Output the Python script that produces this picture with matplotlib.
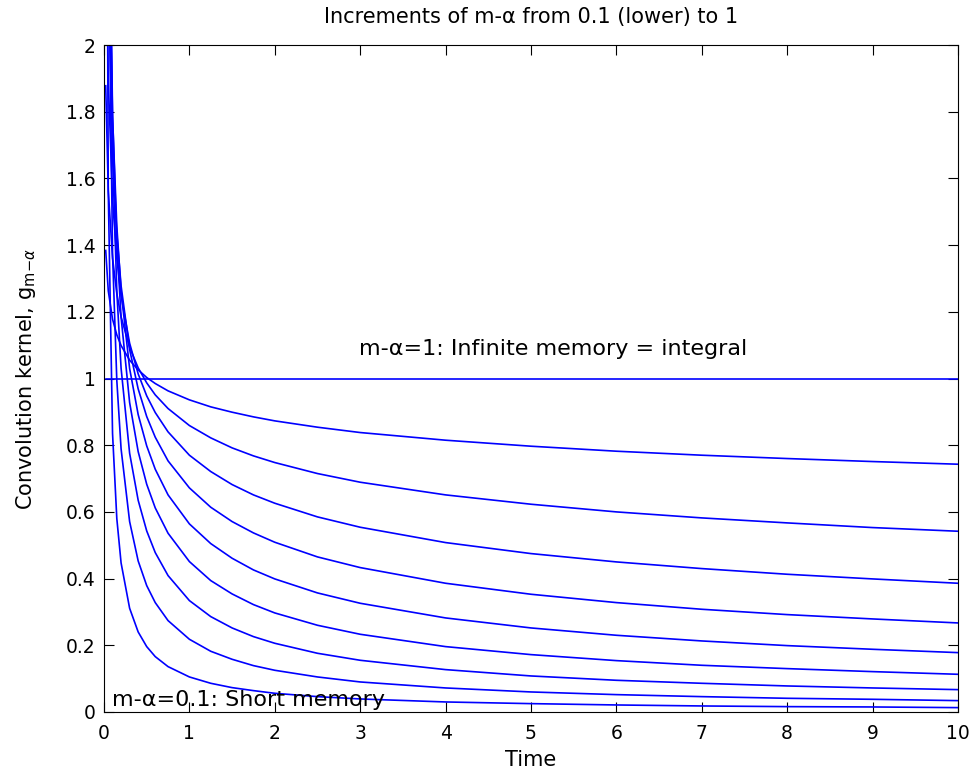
import matplotlib
matplotlib.use('Agg')
import matplotlib.pyplot as plt

plt.rcParams['font.family'] = ['DejaVu Sans']

# sample times
time = [0.02, 0.05, 0.1, 0.15, 0.2, 0.3, 0.4, 0.5, 0.6, 0.75, 1, 1.25, 1.5, 1.75, 2,
        2.5, 3, 4, 5, 6, 7, 8, 9, 10]

# kernel values per curve, m-alpha = 0.1 ... 1 (values above 2 are off the chart)
g_01 = [3.55, 1.56, 0.835, 0.58, 0.447, 0.311, 0.24, 0.196, 0.166, 0.136, 0.105, 0.086,
        0.073, 0.064, 0.056, 0.046, 0.039, 0.030, 0.025, 0.021, 0.018, 0.016, 0.015, 0.013]
g_02 = [4.98, 2.39, 1.374, 0.994, 0.789, 0.571, 0.453, 0.379, 0.328, 0.274, 0.218, 0.182,
        0.158, 0.139, 0.125, 0.105, 0.090, 0.072, 0.060, 0.052, 0.046, 0.041, 0.038, 0.034]
g_03 = [5.17, 2.72, 1.675, 1.261, 1.031, 0.776, 0.635, 0.543, 0.478, 0.409, 0.334, 0.286,
        0.252, 0.226, 0.206, 0.176, 0.155, 0.127, 0.108, 0.095, 0.086, 0.078, 0.072, 0.067]
g_04 = [4.71, 2.72, 1.795, 1.407, 1.184, 0.928, 0.781, 0.683, 0.612, 0.536, 0.451, 0.394,
        0.354, 0.322, 0.297, 0.260, 0.233, 0.196, 0.172, 0.154, 0.140, 0.130, 0.121, 0.113]
g_05 = [3.99, 2.52, 1.784, 1.457, 1.262, 1.030, 0.892, 0.798, 0.728, 0.651, 0.564, 0.505,
        0.461, 0.426, 0.399, 0.357, 0.326, 0.282, 0.252, 0.230, 0.213, 0.199, 0.188, 0.178]
g_06 = [3.21, 2.23, 1.687, 1.434, 1.278, 1.087, 0.969, 0.886, 0.824, 0.753, 0.672, 0.614,
        0.571, 0.537, 0.509, 0.465, 0.433, 0.386, 0.353, 0.328, 0.308, 0.292, 0.279, 0.267]
g_07 = [2.49, 1.893, 1.537, 1.361, 1.248, 1.106, 1.014, 0.948, 0.898, 0.840, 0.770, 0.721,
        0.682, 0.651, 0.626, 0.585, 0.554, 0.508, 0.475, 0.450, 0.430, 0.413, 0.399, 0.386]
g_08 = [1.878, 1.564, 1.361, 1.255, 1.185, 1.093, 1.032, 0.987, 0.951, 0.910, 0.859, 0.822,
        0.792, 0.768, 0.748, 0.715, 0.689, 0.651, 0.623, 0.600, 0.582, 0.567, 0.553, 0.542]
g_09 = [1.384, 1.263, 1.178, 1.131, 1.099, 1.055, 1.026, 1.003, 0.985, 0.963, 0.936, 0.915,
        0.899, 0.885, 0.873, 0.854, 0.838, 0.815, 0.797, 0.782, 0.770, 0.760, 0.751, 0.743]
g_10 = [1.0] * len(time)

curves = [g_01, g_02, g_03, g_04, g_05, g_06, g_07, g_08, g_09, g_10]

x_ticks = list(range(0, 11))
y_ticks = [0, 0.2, 0.4, 0.6, 0.8, 1, 1.2, 1.4, 1.6, 1.8, 2]
y_tick_labels = ['0', '0.2', '0.4', '0.6', '0.8', '1', '1.2', '1.4', '1.6', '1.8', '2']

fig = plt.figure(figsize=(9.72, 7.77), dpi=100)
ax = fig.add_axes([0.107, 0.0837, 0.8785, 0.8583])

for g in curves:
    ax.plot(time, g, color='#0000ff', linewidth=1.2)

ax.set_xlim(0, 10)
ax.set_ylim(0, 2)
ax.set_xticks(x_ticks)
ax.set_yticks(y_ticks)
ax.set_yticklabels(y_tick_labels)
ax.tick_params(direction='in', top=True, right=True, length=7, width=0.8,
               labelsize=13.5)
ax.tick_params(axis='x', pad=9)
ax.tick_params(axis='y', pad=6)
for s in ax.spines.values():
    s.set_linewidth(0.8)

ax.set_title('Increments of m-α from 0.1 (lower) to 1', fontsize=15, pad=16)
ax.set_xlabel('Time', fontsize=15, labelpad=5)
ax.set_ylabel(r'Convolution kernel, g$_{\mathrm{m\!-\!}\alpha}$', fontsize=15, labelpad=20)

ax.text(2.99, 1.07, 'm-α=1: Infinite memory = integral', fontsize=16, va='baseline')
ax.text(0.09, 0.018, 'm-α=0.1: Short memory', fontsize=16, va='baseline')

fig.savefig('out.png', dpi=100)
